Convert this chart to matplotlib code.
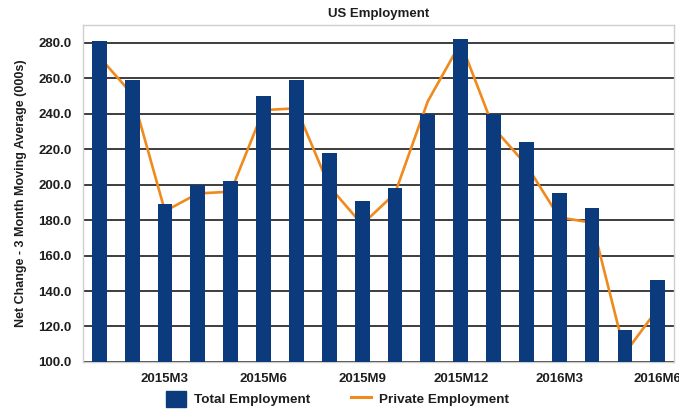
import numpy as np
import matplotlib
matplotlib.use("Agg")
import matplotlib.pyplot as plt
from matplotlib.patches import Patch
from matplotlib.lines import Line2D

plt.rcParams['font.family'] = ['Liberation Sans', 'DejaVu Sans']
plt.rcParams['font.weight'] = 'bold'
plt.rcParams['axes.titleweight'] = 'bold'
plt.rcParams['axes.labelweight'] = 'bold'

# Monthly series, 2015M1 .. 2016M6 (net change, 3-month moving average, 000s)
months = ["2015M1", "2015M2", "2015M3", "2015M4", "2015M5", "2015M6",
          "2015M7", "2015M8", "2015M9", "2015M10", "2015M11", "2015M12",
          "2016M1", "2016M2", "2016M3", "2016M4", "2016M5", "2016M6"]
total_emp = [281, 259, 189, 200, 202, 250, 259, 218, 191, 198, 240, 282,
             240, 224, 195, 187, 118, 146]
private_emp = [272, 251, 185, 195, 196, 242, 243, 199, 177.5, 195, 247, 280,
               232, 211, 181.5, 178.5, 105, 130]

bar_color = "#0b3b7c"
line_color = "#f08a1c"
text_color = "#1e1e1e"

fig = plt.figure(figsize=(6.79, 4.09), dpi=100)
ax = fig.add_axes([0.122, 0.115, 0.871, 0.824])

x = np.arange(len(months))

# line sits behind the bars
ax.plot(x, private_emp, color=line_color, lw=1.9, zorder=2, solid_joinstyle='miter')
ax.bar(x, total_emp, width=0.45, color=bar_color, zorder=3)

ax.set_xlim(-0.5, len(months) - 0.5)
ax.set_ylim(100, 290)
ax.set_yticks(np.arange(100, 281, 20))
ax.set_yticklabels([f"{v:.1f}" for v in np.arange(100, 281, 20)])
ax.set_xticks(x[2::3])
ax.set_xticklabels(months[2::3])

ax.yaxis.grid(True, color="#2e2e2e", lw=1.3, zorder=1)
ax.set_axisbelow(True)
ax.tick_params(axis='both', length=0, labelsize=9.5, colors=text_color)
ax.tick_params(axis='y', pad=8)
ax.tick_params(axis='x', pad=8)
for s in ax.spines.values():
    s.set_color("#cfcfcf")
    s.set_linewidth(1.0)

ax.set_ylabel("Net Change - 3 Month Moving Average (000s)", fontsize=9,
              color=text_color, labelpad=8)
ax.set_title("US Employment", fontsize=9.5, color=text_color, pad=6)

handles = [Patch(facecolor=bar_color, edgecolor=bar_color),
           Line2D([0], [0], color=line_color, lw=2.2)]
fig.legend(handles, ["Total Employment", "Private Employment"], ncol=2,
           loc='lower center', bbox_to_anchor=(0.497, -0.025), frameon=False,
           fontsize=9.7, handlelength=1.5, handleheight=1.5, handletextpad=0.6,
           columnspacing=3.0, labelcolor=text_color)

fig.savefig("out.png", dpi=100)
